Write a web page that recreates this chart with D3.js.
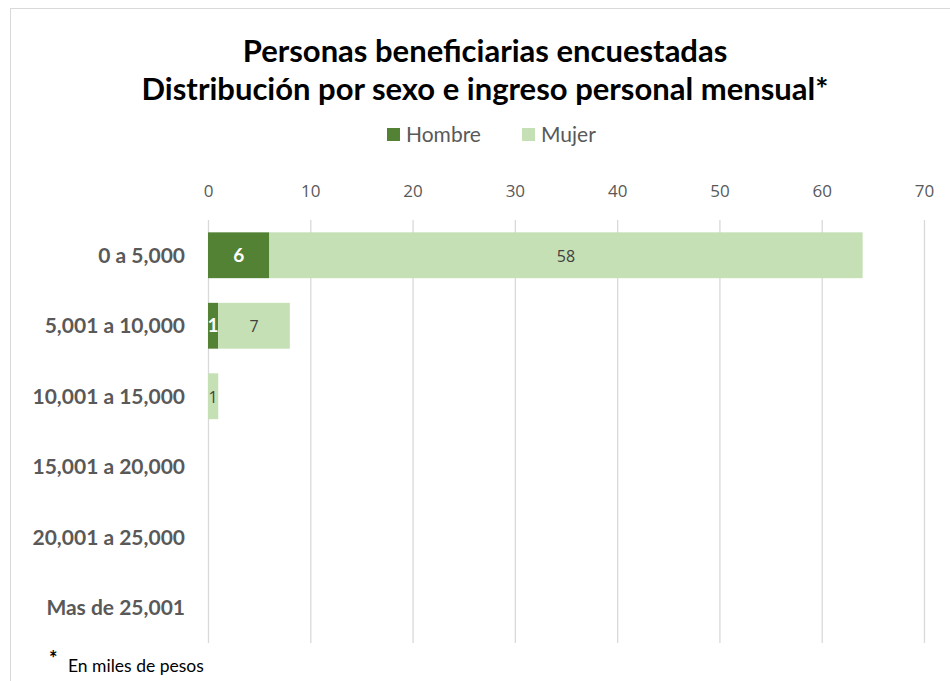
<!DOCTYPE html>
<html><head><meta charset="utf-8">
<script src="https://cdn.jsdelivr.net/npm/d3@7"></script>
<style>body{margin:0;background:#fff}svg{display:block}</style>
</head><body>
<svg id="c" width="950" height="681"></svg>
<script>
const categories = ["0 a 5,000","5,001 a 10,000","10,001 a 15,000","15,001 a 20,000","20,001 a 25,000","Mas de 25,001"];
const hombre = [6,1,0,0,0,0];
const mujer = [58,7,1,0,0,0];
const seriesNames = ["Hombre","Mujer"];
const xTicks = [0,10,20,30,40,50,60,70];
const titleLines = ["Personas beneficiarias encuestadas","Distribución por sexo e ingreso personal mensual*"];
const footnote = "En miles de pesos";

const colors = ["#548235","#C5E0B4"];
const font = "Lato, 'Open Sans', sans-serif";
const thin = "'Open Sans', Lato, sans-serif";
const svg = d3.select("#c");

// chart border
svg.append("rect").attr("x",10.5).attr("y",8.5).attr("width",960).attr("height",700)
  .attr("fill","#fff").attr("stroke","#d9d9d9");

const x = d3.scaleLinear().domain([0,70]).range([208,924]);
const y = d3.scaleBand().domain(categories).range([220,643]).paddingInner(0.35).paddingOuter(0.175);

// title
svg.append("g").selectAll("text").data(titleLines).join("text")
  .attr("x",485).attr("y",(d,i)=>62+i*38).attr("text-anchor","middle")
  .attr("font-family",font).attr("font-weight","bold").attr("font-size",31).attr("fill","#000")
  .text(d=>d);

// legend
const lg = svg.append("g");
const legX = [387,522];
seriesNames.forEach((n,i)=>{
  lg.append("rect").attr("x",legX[i]).attr("y",128).attr("width",13).attr("height",13).attr("fill",colors[i]);
  lg.append("text").attr("x",legX[i]+19).attr("y",142).attr("font-family",font).attr("font-size",21)
    .attr("fill","#595959").text(n);
});

// gridlines
svg.append("g").selectAll("line").data(xTicks).join("line")
  .attr("x1",d=>x(d)+0.5).attr("x2",d=>x(d)+0.5).attr("y1",220).attr("y2",643)
  .attr("stroke","#d9d9d9").attr("stroke-width",1.3);

// x axis labels on top
const xa = svg.append("g").attr("transform","translate(0,197)")
  .call(d3.axisTop(x).tickValues(xTicks).tickSize(0).tickPadding(0));
xa.select(".domain").remove();
xa.selectAll("text").attr("font-family",thin).attr("font-size",17).attr("fill","#595959").attr("dy",0);

// y axis labels
const ya = svg.append("g").attr("transform","translate(185,0)")
  .call(d3.axisLeft(y).tickSize(0).tickPadding(0));
ya.select(".domain").remove();
ya.selectAll("text").attr("font-family",font).attr("font-weight","bold").attr("font-size",21).attr("fill","#595959").attr("dy","0.36em");

// stacked data
const rows = categories.map((c,i)=>({cat:c,Hombre:hombre[i],Mujer:mujer[i]}));
const stack = d3.stack().keys(seriesNames)(rows);
const g = svg.append("g");
stack.forEach((s,si)=>{
  g.append("g").selectAll("rect").data(s).join("rect")
    .attr("x",d=>x(d[0])).attr("width",d=>x(d[1])-x(d[0]))
    .attr("y",d=>y(d.data.cat)).attr("height",y.bandwidth())
    .attr("fill",colors[si]);
});
// labels
stack.forEach((s,si)=>{
  g.append("g").selectAll("text").data(s.filter(d=>d[1]-d[0]>0)).join("text")
    .attr("x",d=>(x(d[0])+x(d[1]))/2).attr("y",d=>y(d.data.cat)+y.bandwidth()/2+6.5)
    .attr("text-anchor","middle").attr("font-family",si===0?font:thin)
    .attr("font-size",si===0?19:16).attr("font-weight",si===0?"bold":"normal")
    .attr("fill",si===0?"#fff":"#404040")
    .text(d=>d[1]-d[0]);
});

// footnote
svg.append("text").attr("x",49).attr("y",666).attr("font-family",font).attr("font-size",20).attr("font-weight","bold").attr("fill","#000").text("*");
svg.append("text").attr("x",68).attr("y",672).attr("font-family",font).attr("font-size",17.5).attr("fill","#000").text(footnote);
</script>
</body></html>
